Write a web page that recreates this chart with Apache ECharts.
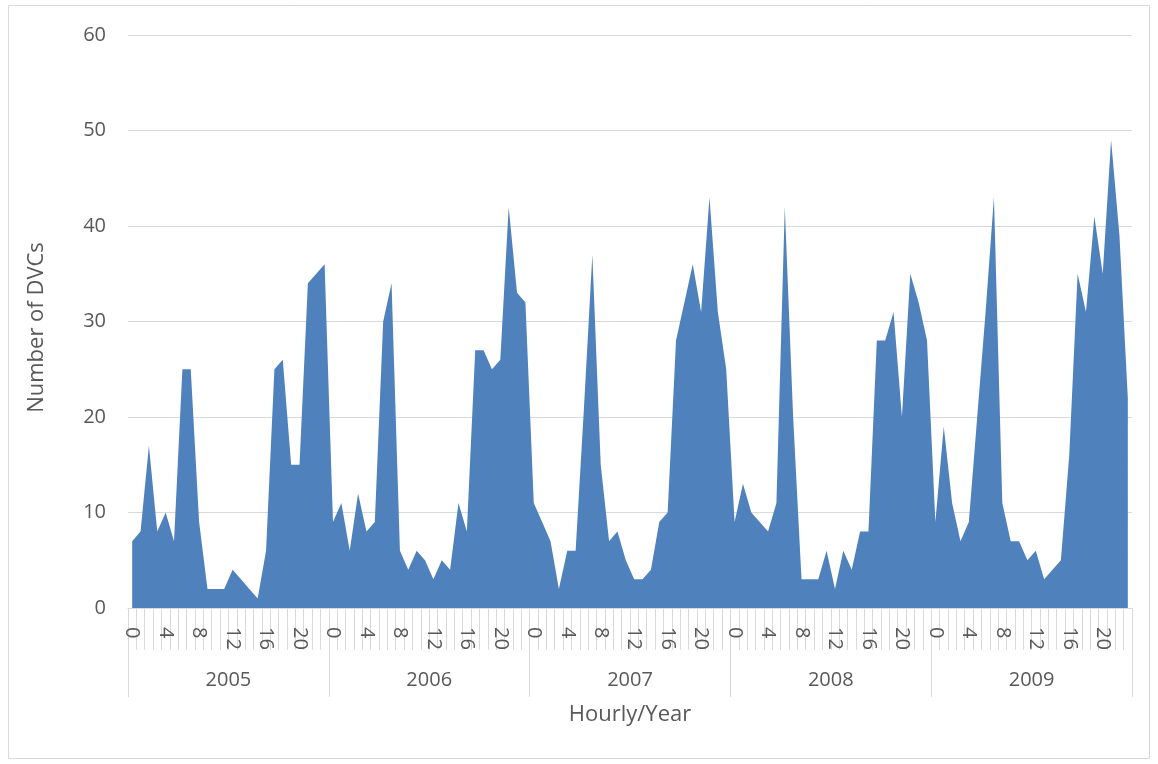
<!DOCTYPE html>
<html>
<head>
<meta charset="utf-8">
<script src="https://cdn.jsdelivr.net/npm/echarts@6/dist/echarts.min.js"></script>
<style>
  html, body { margin: 0; padding: 0; background: #ffffff; }
  #chart { width: 1158px; height: 764px; }
</style>
</head>
<body>
<div id="chart"></div>
<script>
// ---- data ----
const years = ['2005', '2006', '2007', '2008', '2009'];
const hours = ['0','1','2','3','4','5','6','7','8','9','10','11','12','13','14','15','16','17','18','19','20','21','22','23'];
const y2005 = [7, 8, 17, 8, 10, 7, 25, 25, 9, 2, 2, 2, 4, 3, 2, 1, 6, 25, 26, 15, 15, 34, 35, 36];
const y2006 = [9, 11, 6, 12, 8, 9, 30, 34, 6, 4, 6, 5, 3, 5, 4, 11, 8, 27, 27, 25, 26, 42, 33, 32];
const y2007 = [11, 9, 7, 2, 6, 6, 21, 37, 15, 7, 8, 5, 3, 3, 4, 9, 10, 28, 32, 36, 31, 43, 31, 25];
const y2008 = [9, 13, 10, 9, 8, 11, 42, 20, 3, 3, 3, 6, 2, 6, 4, 8, 8, 28, 28, 31, 20, 35, 32, 28];
const y2009 = [9, 19, 11, 7, 9, 20, 31, 43, 11, 7, 7, 5, 6, 3, 4, 5, 16, 35, 31, 41, 35, 49, 39, 22];
const yTicks = [0, 10, 20, 30, 40, 50, 60];

// build category list and values
const seriesByYear = [y2005, y2006, y2007, y2008, y2009];
const categories = [];
const values = [];
years.forEach(function (yr, i) {
  hours.forEach(function (h, j) {
    categories.push(h);
    values.push(seriesByYear[i][j]);
  });
});

const FONT = '"Open Sans", "Liberation Sans", sans-serif';
const TEXT = '#595959';
const GRID = '#d9d9d9';

const chart = echarts.init(document.getElementById('chart'), null, { renderer: 'canvas' });
chart.setOption({
  animation: false,
  backgroundColor: '#ffffff',
  textStyle: { fontFamily: FONT },
  grid: { left: 128, right: 26, top: 35, bottom: 156, containLabel: false },
  graphic: [{
    type: 'rect',
    shape: { x: 8.5, y: 5.5, width: 1141, height: 753 },
    style: { fill: 'none', stroke: GRID, lineWidth: 1 },
    silent: true
  }],
  xAxis: [{
    type: 'category',
    data: categories,
    boundaryGap: true,
    position: 'bottom',
    axisLine: { show: true, lineStyle: { color: GRID, width: 1 } },
    axisTick: { show: true, interval: 0, length: 42, lineStyle: { color: GRID, width: 1 } },
    axisLabel: {
      interval: function (index) { return index % 4 === 0; },
      rotate: -90,
      margin: 19,
      color: TEXT,
      fontSize: 20,
      fontFamily: FONT
    },
    splitLine: { show: false }
  }, {
    type: 'category',
    data: years,
    boundaryGap: true,
    position: 'bottom',
    offset: 0,
    axisLine: { show: false },
    axisTick: { show: true, interval: 0, length: 89, lineStyle: { color: GRID, width: 1 } },
    axisLabel: { margin: 62, color: TEXT, fontSize: 20, fontFamily: FONT },
    splitLine: { show: false },
    name: 'Hourly/Year',
    nameLocation: 'middle',
    nameGap: 96,
    nameTextStyle: { color: TEXT, fontSize: 22, fontFamily: FONT }
  }],
  yAxis: {
    type: 'value',
    min: yTicks[0],
    max: yTicks[yTicks.length - 1],
    interval: 10,
    axisLine: { show: false },
    axisTick: { show: false },
    axisLabel: { margin: 22, color: TEXT, fontSize: 20, fontFamily: FONT },
    splitLine: { show: true, lineStyle: { color: GRID, width: 1 } },
    name: 'Number of DVCs',
    nameLocation: 'middle',
    nameRotate: 90,
    nameGap: 80,
    nameTextStyle: { color: TEXT, fontSize: 22, fontFamily: FONT, padding: [0, 12, 0, 0] }
  },
  series: [{
    type: 'line',
    xAxisIndex: 0,
    data: values,
    showSymbol: false,
    symbol: 'none',
    lineStyle: { width: 0, color: '#4f81bd' },
    areaStyle: { color: '#4f81bd', opacity: 1 },
    itemStyle: { color: '#4f81bd' }
  }]
});
</script>
</body>
</html>
